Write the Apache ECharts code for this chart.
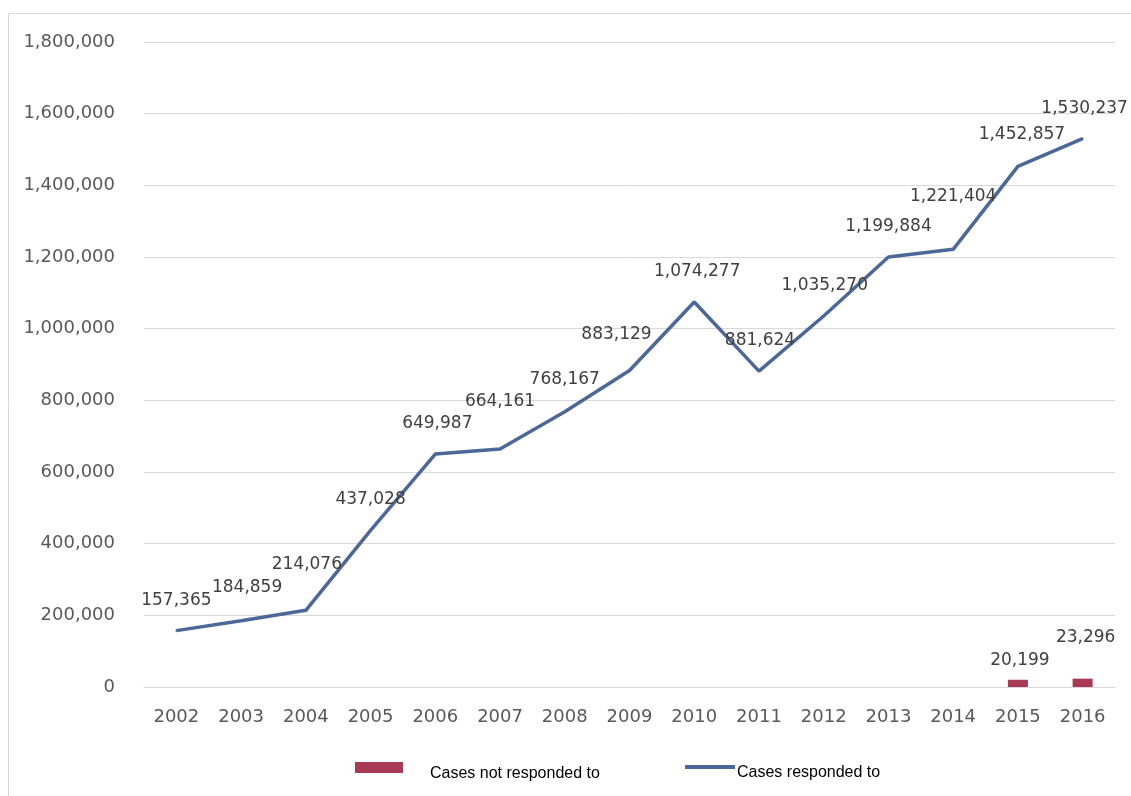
<!DOCTYPE html>
<html>
<head>
<meta charset="utf-8">
<script src="https://cdn.jsdelivr.net/npm/echarts@6/dist/echarts.min.js"></script>
<style>
html,body{margin:0;padding:0;background:#fff;}
#chart{width:1131px;height:796px;}
</style>
</head>
<body>
<div id="chart"></div>
<script>
var years = ['2002','2003','2004','2005','2006','2007','2008','2009','2010','2011','2012','2013','2014','2015','2016'];
var respondedValues = [157365,184859,214076,437028,649987,664161,768167,883129,1074277,881624,1035270,1199884,1221404,1452857,1530237];
var notRespondedValues = [null,null,null,null,null,null,null,null,null,null,null,null,null,20199,23296];
var seriesNames = ['Cases not responded to','Cases responded to'];

// label nudges (styling only)
var lineLabelNudge = [[0,0],[6,-3],[1,-15],[0,0],[2,0],[0,-17],[0,-2],[-13,-5],[3,0],[1,0],[1,0],[0,0],[0,-22],[4,-1],[2,0]];
var barLabelNudge = [[0,0],[0,0],[0,0],[0,0],[0,0],[0,0],[0,0],[0,0],[0,0],[0,0],[0,0],[0,0],[0,0],[2,0],[3,-22]];

var fmt = function(v){ return Number(v).toLocaleString('en-US'); };

var lineColor = '#4b6899';
var barColor = '#a83a55';

var lineData = respondedValues.map(function(v,i){
  return {value:v, label:{offset:lineLabelNudge[i]}};
});
var barData = notRespondedValues.map(function(v,i){
  return v == null ? null : {value:v, label:{offset:barLabelNudge[i]}};
});

function legendText(leftPad, topPad){
  return {
    rich:{t:{fontFamily:'Liberation Sans',fontSize:16,color:'#000',padding:[topPad,0,0,leftPad]}}
  };
}

var chart = echarts.init(document.getElementById('chart'));
chart.setOption({
  backgroundColor:'#ffffff',
  animation:false,
  textStyle:{fontFamily:'DejaVu Sans'},
  graphic:[{
    type:'rect', silent:true, z:-1,
    shape:{x:8.5,y:13.5,width:1200,height:900},
    style:{fill:'none',stroke:'#d9d9d9',lineWidth:1}
  }],
  grid:{left:144,right:16,top:42,bottom:109,containLabel:false},
  legend:[{
    data:[{name:seriesNames[0],icon:'rect',itemStyle:{color:barColor}}],
    left:355, top:762, padding:0,
    itemWidth:48, itemHeight:11,
    formatter:'{t|{name}}',
    textStyle:legendText(22,13)
  },{
    data:[{name:seriesNames[1],icon:'rect',itemStyle:{color:lineColor,opacity:1}}],
    left:685, top:765, padding:0,
    itemWidth:50, itemHeight:4,
    formatter:'{t|{name}}',
    textStyle:legendText(-3,12)
  }],
  xAxis:{
    type:'category',
    data:years,
    boundaryGap:true,
    axisLine:{show:true,lineStyle:{color:'#d9d9d9',width:1}},
    axisTick:{show:false},
    axisLabel:{color:'#595959',fontSize:18,margin:21,fontFamily:'DejaVu Sans'}
  },
  yAxis:{
    type:'value',
    min:0,max:1800000,interval:200000,
    axisLine:{show:false},
    axisTick:{show:false},
    splitLine:{lineStyle:{color:'#d9d9d9',width:1}},
    axisLabel:{color:'#595959',fontSize:18,margin:29,fontFamily:'DejaVu Sans',formatter:function(v){return fmt(v);}}
  },
  series:[{
    name:seriesNames[0],
    type:'bar',
    data:barData,
    barWidth:20,
    itemStyle:{color:barColor},
    label:{show:true,position:'top',distance:11,color:'#404040',fontSize:17,fontFamily:'DejaVu Sans',formatter:function(p){return fmt(p.value);}}
  },{
    name:seriesNames[1],
    type:'line',
    data:lineData,
    symbol:'circle',
    symbolSize:2,
    showSymbol:true,
    lineStyle:{color:lineColor,width:3.5},
    itemStyle:{color:lineColor},
    label:{show:true,position:'top',distance:21,color:'#404040',fontSize:17,fontFamily:'DejaVu Sans',formatter:function(p){return fmt(p.value);}},
    z:3
  }]
});
</script>
</body>
</html>
